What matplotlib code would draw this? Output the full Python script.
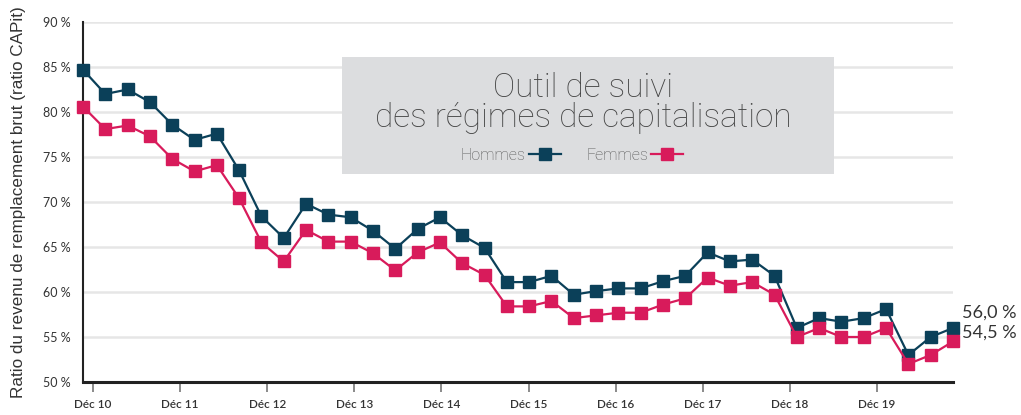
import numpy as np
import matplotlib.pyplot as plt
from matplotlib.patches import Rectangle
from matplotlib.lines import Line2D

plt.rcParams['font.family'] = ['Lato', 'DejaVu Sans']

# ratio trimestriel (%)
hommes = [84.7, 82.0, 82.5, 81.1, 78.6, 76.9, 77.6, 73.5, 68.4, 66.0,
          69.8, 68.6, 68.3, 66.8, 64.8, 67.0, 68.3, 66.3, 64.9, 61.1,
          61.1, 61.8, 59.7, 60.1, 60.4, 60.4, 61.2, 61.8, 64.4, 63.4,
          63.6, 61.8, 56.0, 57.1, 56.7, 57.1, 58.1, 53.0, 55.0, 56.0]
femmes = [80.6, 78.1, 78.5, 77.3, 74.8, 73.4, 74.1, 70.4, 65.5, 63.4,
          66.9, 65.6, 65.6, 64.3, 62.4, 64.4, 65.5, 63.2, 61.9, 58.4,
          58.4, 59.0, 57.1, 57.4, 57.7, 57.7, 58.6, 59.3, 61.6, 60.7,
          61.1, 59.7, 55.0, 56.0, 55.0, 55.0, 56.0, 52.0, 53.0, 54.5]
annees = ['Déc 10', 'Déc 11', 'Déc 12', 'Déc 13', 'Déc 14',
          'Déc 15', 'Déc 16', 'Déc 17', 'Déc 18', 'Déc 19']
yticks = [50, 55, 60, 65, 70, 75, 80, 85, 90]

bleu = '#0b4059'
rose = '#d81b5b'

x = np.arange(len(hommes))

fig = plt.figure(figsize=(10.21, 4.15), dpi=100)
ax = fig.add_axes([83/1021, 1 - 382/415, 870/1021, 360/415])

ax.plot(x, hommes, color=bleu, lw=1.6, marker='s', ms=8.5, zorder=4, clip_on=False)
ax.plot(x, femmes, color=rose, lw=1.6, marker='s', ms=8.5, zorder=4, clip_on=False)

ax.set_xlim(0, len(hommes) - 1)
ax.set_ylim(50, 90)
ax.set_yticks(yticks)
ax.set_yticklabels([f'{v} %' for v in yticks])
ax.grid(axis='y', color='#e6e6e6', lw=1.8)
ax.set_axisbelow(True)

step = 87 / (869 / 39)
ax.set_xticks([0.45 + step * k for k in range(len(annees))])
ax.set_xticklabels(annees, fontweight='semibold')

for s in ['top', 'right']:
    ax.spines[s].set_visible(False)
ax.spines['left'].set_color('#222222')
ax.spines['left'].set_linewidth(1.5)
ax.spines['bottom'].set_color('#222222')
ax.spines['bottom'].set_linewidth(2.2)
ax.tick_params(axis='y', length=0, pad=9, labelsize=9, labelcolor='#333333')
ax.tick_params(axis='x', length=7, width=1.2, color='#777777', pad=5,
               labelsize=8.5, labelcolor='#333333')

ax.set_ylabel('Ratio du revenu de remplacement brut (ratio CAPit)',
              family=['Liberation Sans', 'DejaVu Sans'], fontsize=12.3,
              color='#333333', labelpad=12)

ax.annotate('56,0 %', (x[-1], hommes[-1]), xytext=(9, 15), textcoords='offset pixels',
            fontsize=13, color='#333333', va='center', ha='left', annotation_clip=False)
ax.annotate('54,5 %', (x[-1], femmes[-1]), xytext=(9, 9), textcoords='offset pixels',
            fontsize=13, color='#333333', va='center', ha='left', annotation_clip=False)

# encadré titre + légende
fig.patches.append(Rectangle((342/1021, 1 - 174/415), 492/1021, 117/415,
                             transform=fig.transFigure, facecolor='#dcdddf',
                             edgecolor='none', zorder=5))
fig.text(583/1021, 1 - 103/415, 'Outil de suivi\ndes régimes de capitalisation',
         ha='center', va='center', fontsize=24, fontweight='light',
         family=['Roboto', 'DejaVu Sans'],
         color='#444444', linespacing=0.95, zorder=6)

handles = [Line2D([], [], color=bleu, lw=1.6, marker='s', ms=9),
           Line2D([], [], color=rose, lw=1.6, marker='s', ms=9)]
leg = fig.legend(handles, ['Hommes', 'Femmes'], loc='center',
                 bbox_to_anchor=(572/1021, 1 - 155/415), ncol=2, frameon=False,
                 markerfirst=False, handlelength=2.0, handletextpad=0.2,
                 columnspacing=1.6, prop={'family': ['Roboto', 'DejaVu Sans'],
                                          'weight': 'light', 'size': 11.5})
leg.set_zorder(6)
for t in leg.get_texts():
    t.set_color('#555555')

fig.savefig('out.png', dpi=100)
